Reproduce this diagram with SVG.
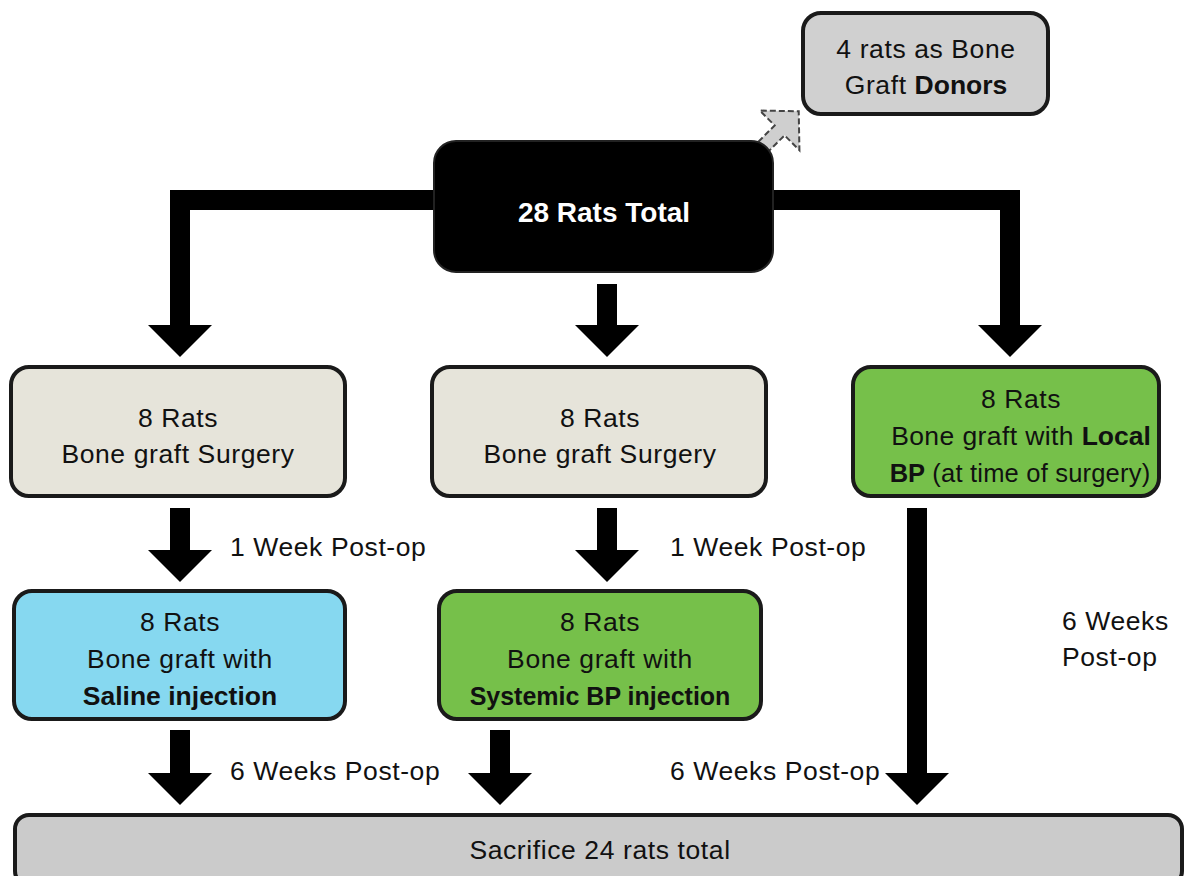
<svg xmlns="http://www.w3.org/2000/svg" width="1185" height="876" viewBox="0 0 1185 876">
<style>
text{font-family:"Liberation Sans",Arial,sans-serif;font-size:26.5px;letter-spacing:0.6px;fill:#111;text-anchor:middle}
.lbl{text-anchor:start}
.b{font-weight:bold;letter-spacing:0}
.box{stroke:#1a1a1a;stroke-width:4}
.arr{fill:#000}
</style>
<rect width="1185" height="876" fill="#fff"/>
<g id="connectors">
<g id="donor-arrow" transform="translate(757,153) rotate(-45)">
<path d="M0,-7 L32,-7 L32,-28 L59,0 L32,28 L32,7 L0,7 Z" fill="#cfcfcf" stroke="#444" stroke-width="2" stroke-dasharray="6,3"/>
</g>
<path class="arr" d="M434,190 L170,190 L170,325 L148,325 L180,357 L212,325 L190,325 L190,210 L434,210 Z"/>
<path class="arr" d="M773,190 L1020,190 L1020,325 L1042,325 L1010,357 L978,325 L1000,325 L1000,210 L773,210 Z"/>
<path class="arr" d="M597,284 L617,284 L617,325 L639,325 L607,357 L575,325 L597,325 Z"/>
<path class="arr" d="M170,508 L190,508 L190,550 L212,550 L180,582 L148,550 L170,550 Z"/>
<path class="arr" d="M597,508 L617,508 L617,550 L639,550 L607,582 L575,550 L597,550 Z"/>
<path class="arr" d="M907,508 L927,508 L927,773 L949,773 L917,805 L885,773 L907,773 Z"/>
<path class="arr" d="M170,730 L190,730 L190,773 L212,773 L180,805 L148,773 L170,773 Z"/>
<path class="arr" d="M490,730 L510,730 L510,773 L532,773 L500,805 L468,773 L490,773 Z"/>
<text class="lbl" x="230" y="556">1 Week Post-op</text>
<text class="lbl" x="670" y="556">1 Week Post-op</text>
<text class="lbl" x="230" y="780">6 Weeks Post-op</text>
<text class="lbl" x="670" y="780">6 Weeks Post-op</text>
<text class="lbl" x="1062" y="630">6 Weeks</text>
<text class="lbl" x="1062" y="666">Post-op</text>
</g>
<g id="donors">
<rect class="box" x="803" y="13" width="245" height="101" rx="18" fill="#d0d0d0"/>
<text x="926" y="58">4 rats as Bone</text>
<text x="926" y="94">Graft <tspan class="b">Donors</tspan></text>
</g>
<g id="total">
<rect x="434" y="141" width="339" height="131" rx="22" fill="#000" stroke="#222" stroke-width="2"/>
<text x="604" y="222" class="b" style="fill:#fff;font-size:28px">28 Rats Total</text>
</g>
<g id="surgery-left">
<rect class="box" x="11" y="367" width="334" height="129" rx="18" fill="#e6e4da"/>
<text x="178" y="427">8 Rats</text>
<text x="178" y="463">Bone graft Surgery</text>
</g>
<g id="surgery-mid">
<rect class="box" x="432" y="367" width="334" height="129" rx="18" fill="#e6e4da"/>
<text x="600" y="427">8 Rats</text>
<text x="600" y="463">Bone graft Surgery</text>
</g>
<g id="local-bp">
<rect class="box" x="853" y="367" width="306" height="129" rx="18" fill="#76c04a"/>
<text x="1021" y="408">8 Rats</text>
<text x="1021" y="445" style="letter-spacing:0.4px">Bone graft with <tspan class="b">Local</tspan></text>
<text x="1020" y="482" style="letter-spacing:0.2px;font-size:25.5px"><tspan class="b">BP</tspan> (at time of surgery)</text>
</g>
<g id="saline">
<rect class="box" x="14" y="591" width="331" height="128" rx="18" fill="#86d8f0"/>
<text x="180" y="631">8 Rats</text>
<text x="180" y="668">Bone graft with</text>
<text x="180" y="705" class="b">Saline injection</text>
</g>
<g id="systemic">
<rect class="box" x="439" y="591" width="322" height="128" rx="18" fill="#76c04a"/>
<text x="600" y="631">8 Rats</text>
<text x="600" y="668">Bone graft with</text>
<text x="600" y="705" class="b" style="font-size:25px">Systemic BP injection</text>
</g>
<g id="sacrifice">
<rect class="box" x="15" y="815" width="1167" height="70" rx="14" fill="#cbcbcb"/>
<text x="600" y="859">Sacrifice 24 rats total</text>
</g>
</svg>
